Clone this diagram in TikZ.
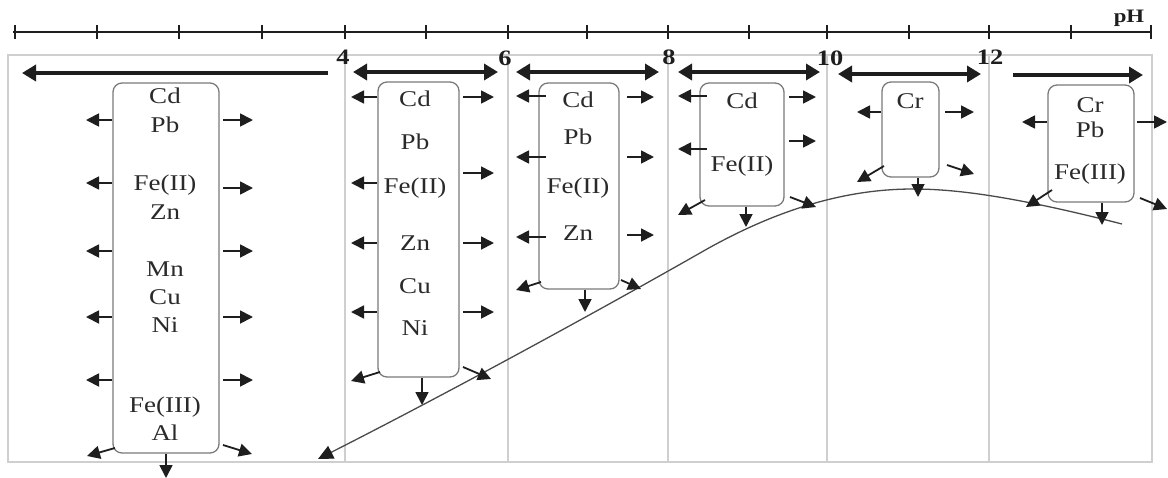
\documentclass[tikz,border=0pt]{standalone}
\usepackage{fontspec}
\setmainfont{Liberation Serif}[FakeStretch=1.2]
\usetikzlibrary{arrows.meta}
\definecolor{ink}{HTML}{1E1E1E}
\definecolor{txt}{HTML}{2A2A2A}
\definecolor{gridc}{HTML}{CFCFCF}
\definecolor{boxc}{HTML}{7A7A7A}
\definecolor{curvec}{HTML}{4A4A4A}
\tikzset{
  elem/.style={inner sep=0pt, text height=15pt, text depth=0pt, font=\fontsize{22.5}{26}\selectfont, text=txt},
  num/.style={inner sep=0pt, text height=15pt, text depth=0pt, font=\bfseries\fontsize{22}{24}\selectfont, text=ink},
  ebox/.style={draw=boxc, line width=1.3pt, rounded corners=9pt, inner sep=0pt},
  sarr/.style={draw=ink, line width=1.8pt, -{Triangle[length=13pt,width=13pt]}},
  barr/.style={draw=ink, line width=3.6pt, -{Triangle[length=14pt,width=16pt]}},
  barrb/.style={draw=ink, line width=3.6pt, {Triangle[length=14pt,width=16pt]}-{Triangle[length=14pt,width=16pt]}},
  axisl/.style={draw=ink, line width=2.4pt},
  tick/.style={draw=ink, line width=2.8pt},
  gridl/.style={draw=gridc, line width=1.2pt},
  curvel/.style={draw=curvec, line width=1.3pt, {Triangle[length=15pt,width=14pt,color=ink,fill=ink]}-},
}
\begin{document}
\begin{tikzpicture}[x=1pt,y=-1pt]
\useasboundingbox (0,0) rectangle (1168,477);

% ---- pH axis ----
\coordinate (ax0) at (13,32);
\coordinate (ax1) at (1151,32);
\draw[axisl] (ax0) -- (ax1);
\foreach \x [count=\i] in {15,97,179,262,345,426,508,587,668,749,827,909,989,1071,1151}{
  \coordinate (tk\i a) at (\x,25);
  \coordinate (tk\i b) at (\x,39);
  \draw[tick] (tk\i a) -- (tk\i b);
}
\node[inner sep=0pt, font=\bfseries\fontsize{19}{22}\selectfont, text=ink] (pH) at (1129,18) {pH};

% ---- panel and grid ----
\draw[gridl] (8,55) rectangle (1152,462);
\foreach \x [count=\i] in {345,508,668,827,989}{
  \coordinate (g\i a) at (\x,55);
  \coordinate (g\i b) at (\x,462);
  \draw[gridl] (g\i a) -- (g\i b);
}
\node[num] (n4) at (343,57) {4};
\node[num] (n6) at (505,58) {6};
\node[num] (n8) at (669,57) {8};
\node[num] (n10) at (830,58) {10};
\node[num] (n12) at (990,57) {12};

% ---- top range arrows ----
\coordinate (t1a) at (328,73); \coordinate (t1b) at (22,73);
\draw[barr] (t1a) -- (t1b);
\coordinate (t2a) at (353,72); \coordinate (t2b) at (498,72);
\draw[barrb] (t2a) -- (t2b);
\coordinate (t3a) at (516,72); \coordinate (t3b) at (659,72);
\draw[barrb] (t3a) -- (t3b);
\coordinate (t4a) at (678,72); \coordinate (t4b) at (820,72);
\draw[barrb] (t4a) -- (t4b);
\coordinate (t5a) at (838,74); \coordinate (t5b) at (981,74);
\draw[barrb] (t5a) -- (t5b);
\coordinate (t6a) at (1013,75); \coordinate (t6b) at (1143,75);
\draw[barr] (t6a) -- (t6b);

% ---- curve ----
\coordinate (c0) at (318,459);
\coordinate (c1) at (700,253);
\coordinate (c2) at (913,189);
\coordinate (c3) at (1122,224);
\draw[curvel] (c0) .. controls (450,392) and (600,310) .. (c1)
  .. controls (785,204) and (855,189) .. (c2)
  .. controls (960,189) and (1020,198) .. (c3);

% ---- boxes ----
\node[ebox, minimum width=106pt, minimum height=370pt] (b1) at (166,268) {};
\node[ebox, minimum width=81pt, minimum height=295pt] (b2) at (418.5,229.5) {};
\node[ebox, minimum width=80pt, minimum height=206pt] (b3) at (579,186) {};
\node[ebox, minimum width=84pt, minimum height=123pt] (b4) at (742,144.5) {};
\node[ebox, minimum width=57pt, minimum height=95pt] (b5) at (910.5,129.5) {};
\node[ebox, minimum width=86pt, minimum height=117pt] (b6) at (1091,143.5) {};

% ---- texts ----
\node[elem] (b1cd) at (165,96) {Cd};
\node[elem] (b1pb) at (165,125) {Pb};
\node[elem] (b1fe) at (165,183) {Fe(II)};
\node[elem] (b1zn) at (165,212) {Zn};
\node[elem] (b1mn) at (165,269) {Mn};
\node[elem] (b1cu) at (165,297) {Cu};
\node[elem] (b1ni) at (165,325) {Ni};
\node[elem] (b1fe3) at (165,405) {Fe(III)};
\node[elem] (b1al) at (165,433) {Al};

\node[elem] (b2cd) at (415,99) {Cd};
\node[elem] (b2pb) at (415,142) {Pb};
\node[elem] (b2fe) at (415,186) {Fe(II)};
\node[elem] (b2zn) at (415,243) {Zn};
\node[elem] (b2cu) at (415,286) {Cu};
\node[elem] (b2ni) at (415,328) {Ni};

\node[elem] (b3cd) at (578,100) {Cd};
\node[elem] (b3pb) at (578,137) {Pb};
\node[elem] (b3fe) at (578,186) {Fe(II)};
\node[elem] (b3zn) at (578,233) {Zn};

\node[elem] (b4cd) at (742,101) {Cd};
\node[elem] (b4fe) at (742,164) {Fe(II)};

\node[elem] (b5cr) at (910,101) {Cr};

\node[elem] (b6cr) at (1090,105) {Cr};
\node[elem] (b6pb) at (1090,130) {Pb};
\node[elem] (b6fe) at (1090,172) {Fe(III)};

% ---- side arrows ----
% box 1
\foreach \y [count=\i] in {120,183,251,317,380}{
  \coordinate (l1\i) at (86,\y);
  \draw[sarr] (b1.west |- l1\i) -- (l1\i);
}
\foreach \y [count=\i] in {120,188,251,317,380}{
  \coordinate (r1\i) at (253,\y);
  \coordinate (s1\i) at (223,\y);
  \draw[sarr] (s1\i) -- (r1\i);
}
% box 2
\foreach \y [count=\i] in {97,183,243,312}{
  \coordinate (l2\i) at (351,\y);
  \draw[sarr] (b2.west |- l2\i) -- (l2\i);
}
\foreach \y [count=\i] in {97,173,243,312}{
  \coordinate (r2\i) at (494,\y);
  \coordinate (s2\i) at (463,\y);
  \draw[sarr] (s2\i) -- (r2\i);
}
% box 3
\foreach \y [count=\i] in {96,157,237}{
  \coordinate (l3\i) at (516,\y);
  \coordinate (p3\i) at (546,\y);
  \draw[sarr] (p3\i) -- (l3\i);
}
\foreach \y [count=\i] in {97,157,235}{
  \coordinate (r3\i) at (654,\y);
  \coordinate (s3\i) at (627,\y);
  \draw[sarr] (s3\i) -- (r3\i);
}
% box 4
\foreach \y [count=\i] in {96,149}{
  \coordinate (l4\i) at (678,\y);
  \coordinate (p4\i) at (707,\y);
  \draw[sarr] (p4\i) -- (l4\i);
}
\foreach \y [count=\i] in {97,141}{
  \coordinate (r4\i) at (816,\y);
  \coordinate (s4\i) at (789,\y);
  \draw[sarr] (s4\i) -- (r4\i);
}
% box 5
\coordinate (l51) at (857,112);
\draw[sarr] (b5.west |- l51) -- (l51);
\coordinate (s51) at (945,112); \coordinate (r51) at (974,112);
\draw[sarr] (s51) -- (r51);
% box 6
\coordinate (l61) at (1022,122);
\draw[sarr] (b6.west |- l61) -- (l61);
\coordinate (s61) at (1137,122); \coordinate (r61) at (1167,122);
\draw[sarr] (s61) -- (r61);

% ---- corner and down arrows ----
\coordinate (bl1) at (87,456);  \coordinate (bl1s) at (115,448); \draw[sarr] (bl1s) -- (bl1);
\coordinate (br1) at (252,454); \coordinate (br1s) at (223,445); \draw[sarr] (br1s) -- (br1);
\coordinate (d1) at (166,478);  \draw[sarr] (b1.south -| d1) -- (d1);

\coordinate (bl2) at (351,381); \coordinate (bl2s) at (380,372); \draw[sarr] (bl2s) -- (bl2);
\coordinate (br2) at (491,379); \coordinate (br2s) at (463,367); \draw[sarr] (br2s) -- (br2);
\coordinate (d2) at (422,405);  \draw[sarr] (b2.south -| d2) -- (d2);

\coordinate (bl3) at (516,290); \coordinate (bl3s) at (541,282); \draw[sarr] (bl3s) -- (bl3);
\coordinate (br3) at (641,289); \coordinate (br3s) at (621,280); \draw[sarr] (br3s) -- (br3);
\coordinate (d3) at (585,312);  \draw[sarr] (b3.south -| d3) -- (d3);

\coordinate (bl4) at (678,215); \coordinate (bl4s) at (705,200); \draw[sarr] (bl4s) -- (bl4);
\coordinate (br4) at (816,207); \coordinate (br4s) at (790,197); \draw[sarr] (br4s) -- (br4);
\coordinate (d4) at (746,227);  \draw[sarr] (b4.south -| d4) -- (d4);

\coordinate (bl5) at (857,182); \coordinate (bl5s) at (884,166); \draw[sarr] (bl5s) -- (bl5);
\coordinate (br5) at (974,174); \coordinate (br5s) at (947,165); \draw[sarr] (br5s) -- (br5);
\coordinate (d5) at (918,197);  \draw[sarr] (b5.south -| d5) -- (d5);

\coordinate (bl6) at (1026,207); \coordinate (bl6s) at (1052,190); \draw[sarr] (bl6s) -- (bl6);
\coordinate (br6) at (1167,209); \coordinate (br6s) at (1140,198); \draw[sarr] (br6s) -- (br6);
\coordinate (d6) at (1102,225);  \draw[sarr] (b6.south -| d6) -- (d6);
\end{tikzpicture}
\end{document}
